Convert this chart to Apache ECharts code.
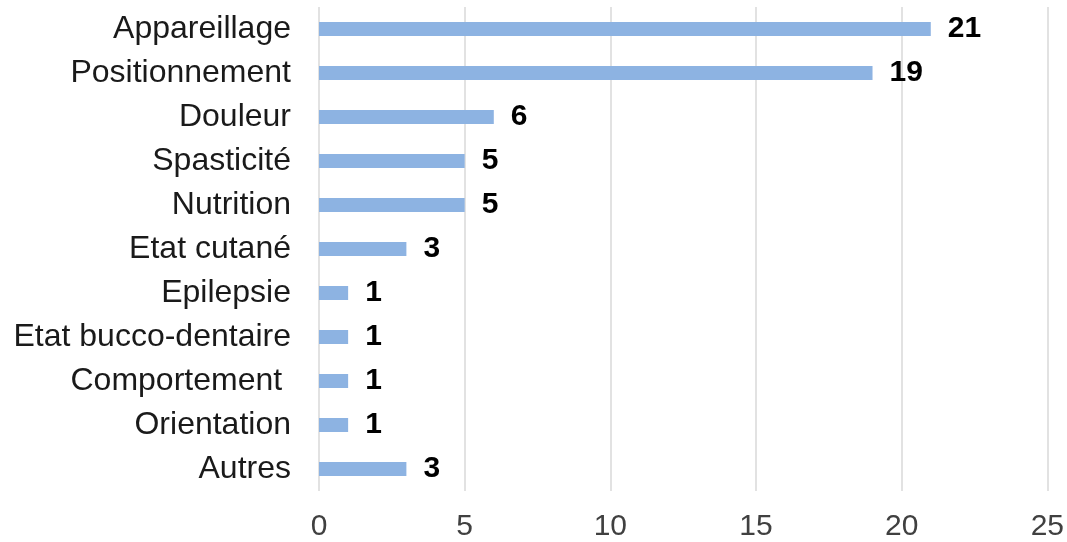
<!DOCTYPE html>
<html>
<head>
<meta charset="utf-8">
<style>
  html, body { margin: 0; padding: 0; background: #ffffff; }
  #chart { width: 1067px; height: 542px; }
</style>
<script src="https://cdn.jsdelivr.net/npm/echarts@6/dist/echarts.min.js"></script>
</head>
<body>
<div id="chart"></div>
<script>
// Categories, top to bottom
const categories = [
  'Appareillage',
  'Positionnement',
  'Douleur',
  'Spasticité',
  'Nutrition',
  'Etat cutané',
  'Epilepsie',
  'Etat bucco-dentaire',
  'Comportement ',
  'Orientation',
  'Autres'
];
// Count per category
const counts = [21, 19, 6, 5, 5, 3, 1, 1, 1, 1, 3];
// Value axis ticks
const xTicks = [0, 5, 10, 15, 20, 25];

const FONT = "'Liberation Sans', Arial, sans-serif";

const chart = echarts.init(document.getElementById('chart'), null, { renderer: 'canvas' });
chart.setOption({
  animation: false,
  backgroundColor: '#ffffff',
  grid: { left: 319, right: 19, top: 7, bottom: 50, containLabel: false },
  xAxis: {
    type: 'value',
    min: xTicks[0],
    max: xTicks[xTicks.length - 1],
    interval: xTicks[1] - xTicks[0],
    axisLine: { show: false },
    axisTick: { show: false },
    splitLine: { show: true, lineStyle: { color: '#d9d9d9', width: 1.5 } },
    axisLabel: {
      margin: 21,
      fontFamily: FONT,
      fontSize: 30,
      color: '#404040'
    }
  },
  yAxis: {
    type: 'category',
    data: categories,
    inverse: true,
    axisLine: { show: false },
    axisTick: { show: false },
    axisLabel: {
      margin: 28,
      fontFamily: FONT,
      fontSize: 32,
      color: '#1a1a1a'
    }
  },
  series: [{
    type: 'bar',
    data: counts,
    barWidth: 14,
    itemStyle: { color: '#8db3e2' },
    label: {
      show: true,
      position: 'right',
      distance: 17,
      fontFamily: FONT,
      fontSize: 30,
      fontWeight: 'bold',
      color: '#000000'
    }
  }]
});
</script>
</body>
</html>
